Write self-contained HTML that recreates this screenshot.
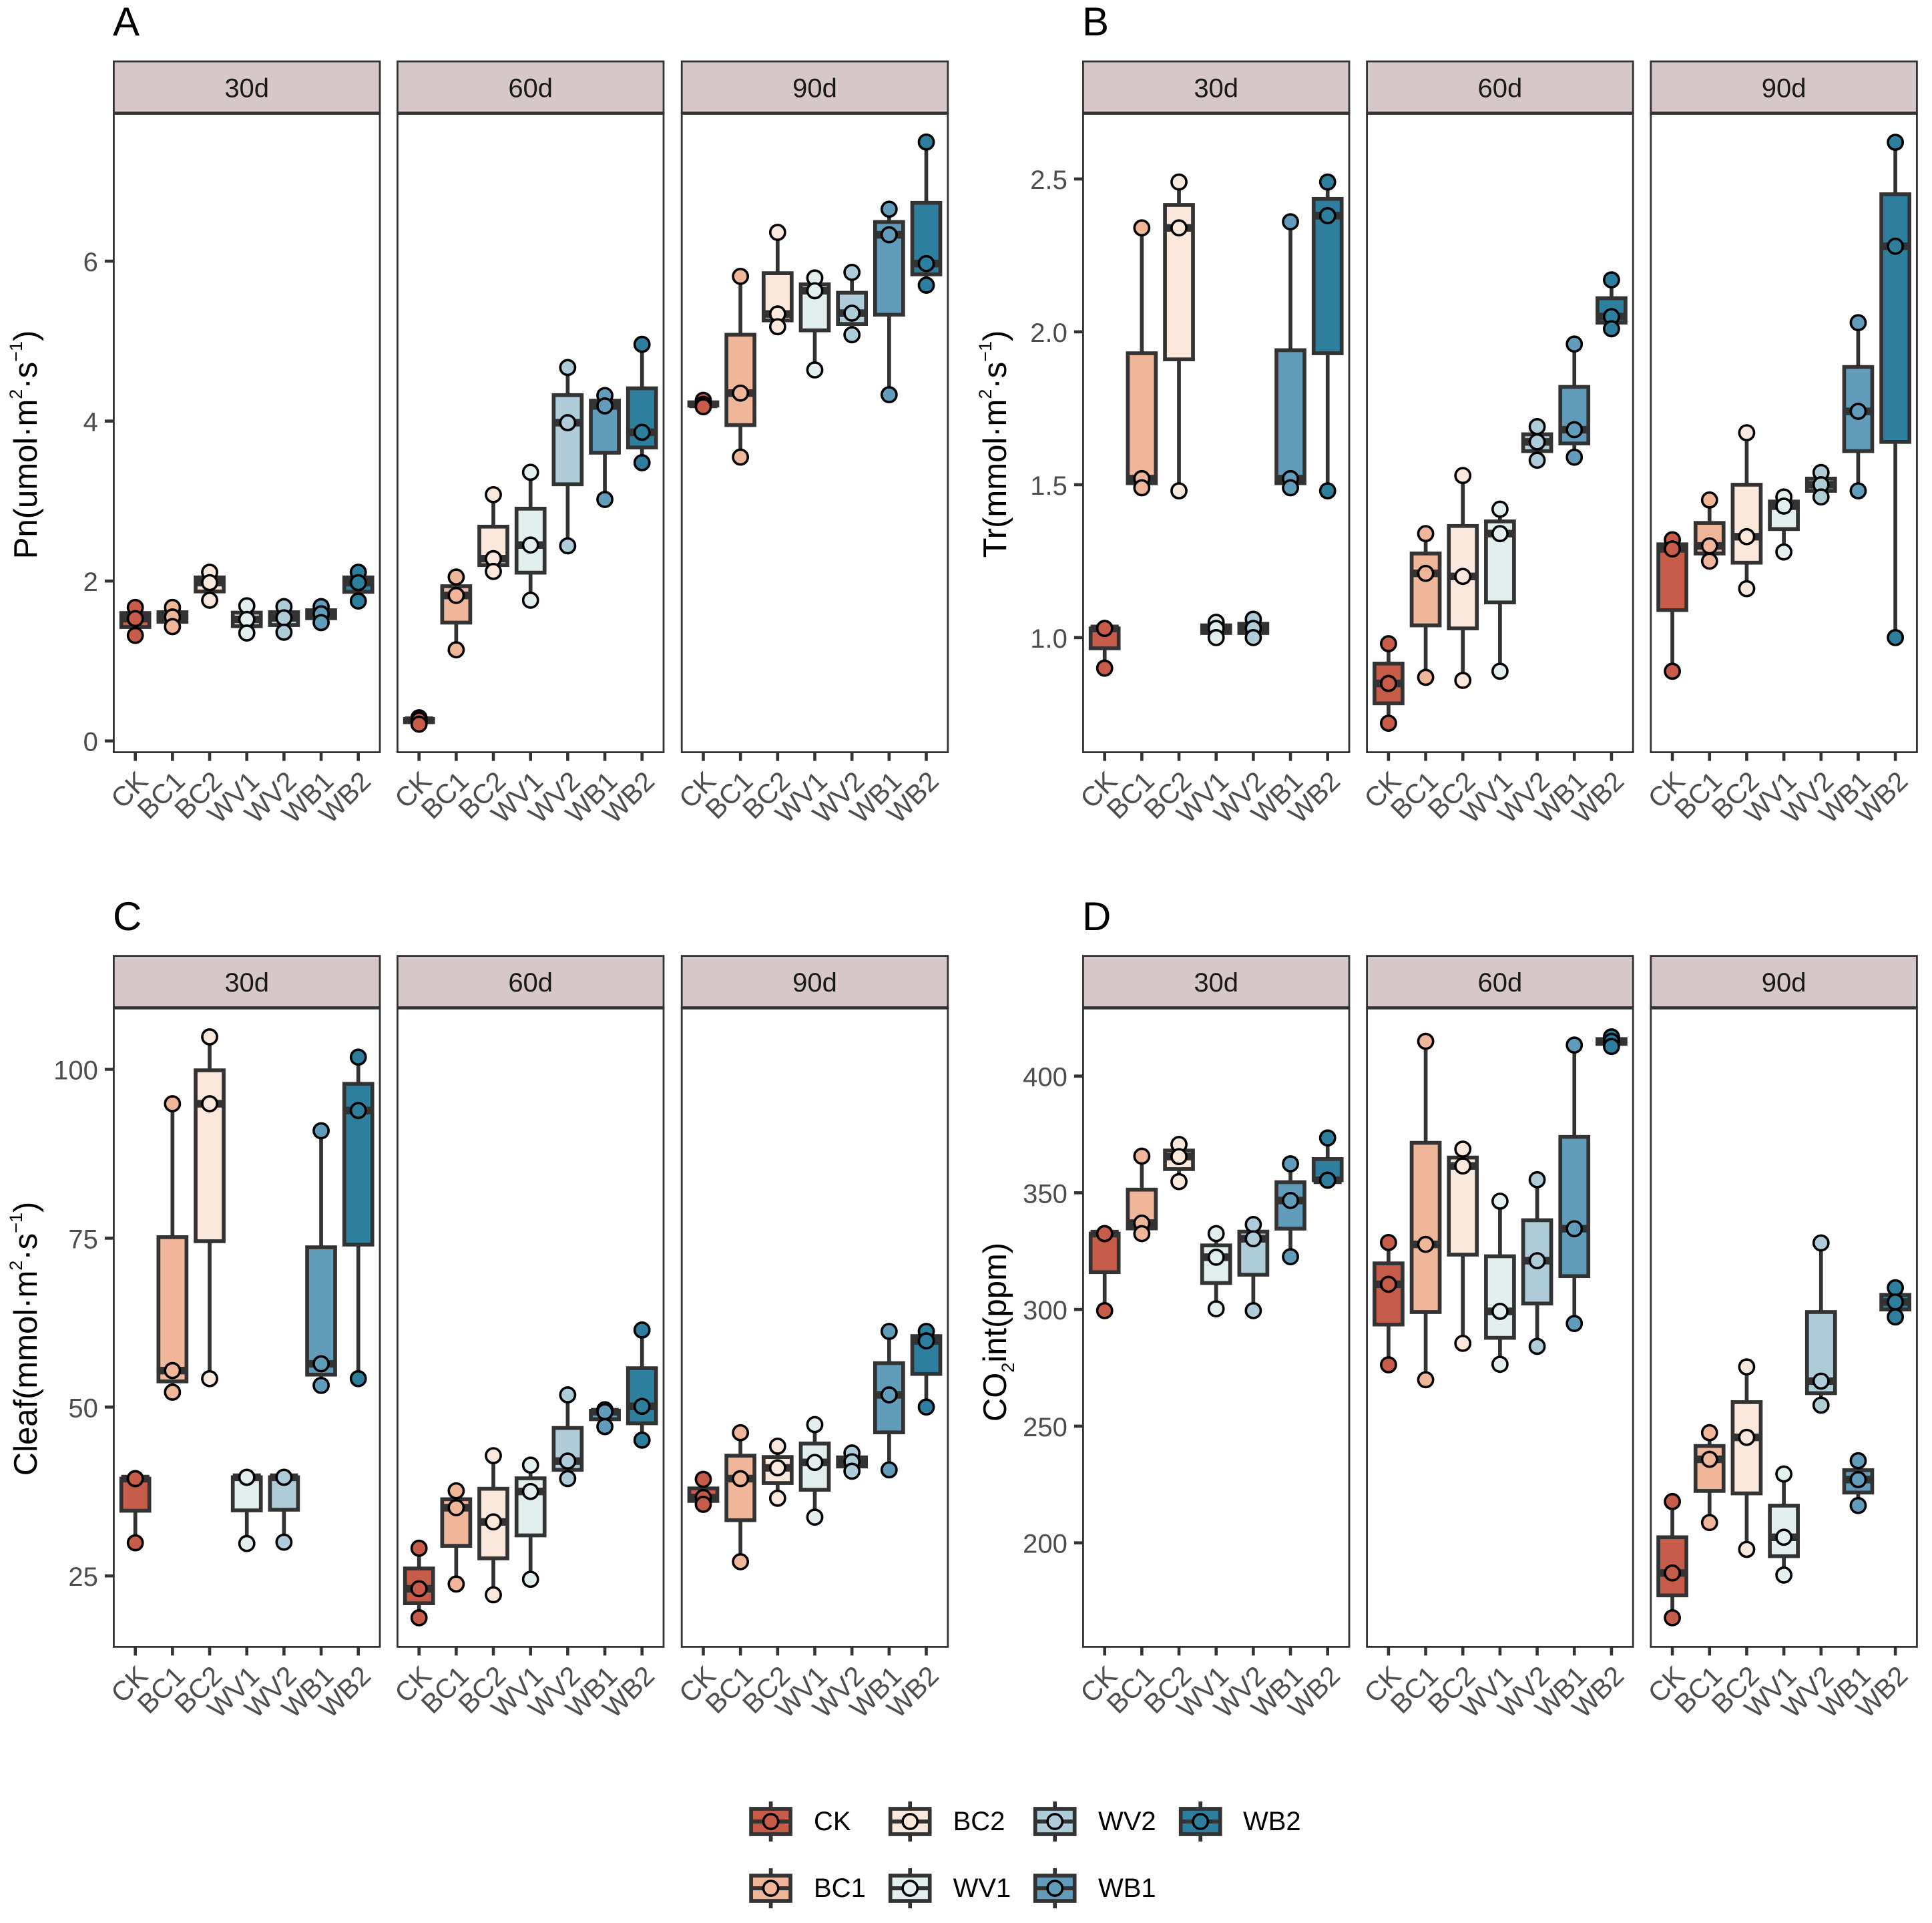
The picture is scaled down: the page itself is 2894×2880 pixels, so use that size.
<!DOCTYPE html>
<html lang="en">
<head>
<meta charset="utf-8">
<title>Boxplots of Pn, Tr, Cleaf and CO2int</title>
<style>
html,body{margin:0;padding:0;background:#fff;}
svg{display:block;font-family:"Liberation Sans",Arial,sans-serif;}
</style>
</head>
<body>
<svg id="figure" xmlns="http://www.w3.org/2000/svg" width="2894" height="2880" viewBox="0 0 2894 2880">
  <rect x="0" y="0" width="2894" height="2880" fill="#ffffff"/>
  <text x="169" y="53" font-size="60" fill="#000">A</text>
  <text x="1621" y="53" font-size="60" fill="#000">B</text>
  <text x="169" y="1393" font-size="60" fill="#000">C</text>
  <text x="1621" y="1393" font-size="60" fill="#000">D</text>

  <text transform="translate(55,666) rotate(-90)" text-anchor="middle" font-size="49" fill="#000">Pn(umol·m<tspan dy="-22" font-size="27">2</tspan><tspan dy="22">·s</tspan><tspan dy="-22" font-size="27">−1</tspan><tspan dy="22">)</tspan></text>
  <text transform="translate(1507,665) rotate(-90)" text-anchor="middle" font-size="49" fill="#000">Tr(mmol·m<tspan dy="-22" font-size="27">2</tspan><tspan dy="22">·s</tspan><tspan dy="-22" font-size="27">−1</tspan><tspan dy="22">)</tspan></text>
  <text transform="translate(55,2005) rotate(-90)" text-anchor="middle" font-size="49" fill="#000">Cleaf(mmol·m<tspan dy="-22" font-size="27">2</tspan><tspan dy="22">·s</tspan><tspan dy="-22" font-size="27">−1</tspan><tspan dy="22">)</tspan></text>
  <text transform="translate(1507,1995) rotate(-90)" text-anchor="middle" font-size="49" fill="#000">CO<tspan dy="12" font-size="27">2</tspan><tspan dy="-12">int(ppm)</tspan></text>
</svg>

<script>
// ----- data (three replicates per treatment) -----
const categories = ['CK', 'BC1', 'BC2', 'WV1', 'WV2', 'WB1', 'WB2'];
const facets = ['30d', '60d', '90d'];
const fills = ['#c85c4a', '#f0b699', '#fbe8dc', '#e2efee', '#aecdd9', '#619dbb', '#2e7f9e'];

const pnTicks = [0, 2, 4, 6];
const pnTickLabels = ['0', '2', '4', '6'];
const pnDomain = [-0.141, 7.85];
const pn30d = [[1.67, 1.53, 1.32], [1.67, 1.55, 1.43], [2.11, 1.98, 1.76], [1.69, 1.52, 1.35], [1.68, 1.54, 1.36], [1.68, 1.59, 1.48], [2.11, 1.98, 1.75]];
const pn60d = [[0.29, 0.26, 0.21], [2.05, 1.82, 1.14], [3.08, 2.28, 2.12], [3.36, 2.45, 1.76], [4.67, 3.98, 2.44], [4.32, 4.19, 3.02], [4.96, 3.86, 3.48]];
const pn90d = [[4.26, 4.21, 4.18], [5.81, 4.35, 3.55], [6.36, 5.34, 5.18], [5.79, 5.63, 4.64], [5.86, 5.35, 5.08], [6.65, 6.33, 4.33], [7.49, 5.97, 5.70]];

const trTicks = [1.0, 1.5, 2.0, 2.5];
const trTickLabels = ['1.0', '1.5', '2.0', '2.5'];
const trDomain = [0.625, 2.715];
const tr30d = [[1.03, 1.03, 0.90], [2.34, 1.52, 1.49], [2.49, 2.34, 1.48], [1.05, 1.03, 1.00], [1.06, 1.03, 1.00], [2.36, 1.52, 1.49], [2.49, 2.38, 1.48]];
const tr60d = [[0.98, 0.85, 0.72], [1.34, 1.21, 0.87], [1.53, 1.20, 0.86], [1.42, 1.34, 0.89], [1.69, 1.64, 1.58], [1.96, 1.68, 1.59], [2.17, 2.05, 2.01]];
const tr90d = [[1.32, 1.29, 0.89], [1.45, 1.30, 1.25], [1.67, 1.33, 1.16], [1.46, 1.43, 1.28], [1.54, 1.50, 1.46], [2.03, 1.74, 1.48], [2.62, 2.28, 1.00]];

const cleafTicks = [25, 50, 75, 100];
const cleafTickLabels = ['25', '50', '75', '100'];
const cleafDomain = [14.5, 109.1];
const cleaf30d = [[39.4, 39.4, 29.9], [94.9, 55.4, 52.2], [104.8, 94.9, 54.2], [39.6, 39.6, 29.8], [39.6, 39.6, 30.0], [90.9, 56.4, 53.2], [101.8, 93.9, 54.2]];
const cleaf60d = [[29.1, 23.1, 18.8], [37.6, 35.1, 23.8], [42.8, 33.0, 22.2], [41.4, 37.5, 24.5], [51.8, 42.0, 39.4], [49.6, 49.3, 47.1], [61.4, 50.1, 45.1]];
const cleaf90d = [[39.3, 36.6, 35.6], [46.2, 39.4, 27.1], [44.2, 41.0, 36.5], [47.4, 41.8, 33.7], [43.2, 41.9, 40.5], [61.2, 51.8, 40.7], [61.2, 59.8, 50.0]];

const co2Ticks = [200, 250, 300, 350, 400];
const co2TickLabels = ['200', '250', '300', '350', '400'];
const co2Domain = [155.45, 429.25];
const co230d = [[332.5, 332.5, 299.5], [365.7, 337.0, 332.5], [370.7, 365.5, 354.8], [332.5, 322.4, 300.3], [336.4, 330.3, 299.5], [362.4, 346.7, 322.6], [373.5, 355.4, 355.4]];
const co260d = [[328.7, 310.8, 276.3], [414.9, 327.9, 269.9], [368.7, 361.5, 285.5], [346.4, 299.2, 276.5], [355.6, 320.9, 284.2], [413.3, 334.6, 294.0], [416.8, 414.9, 412.7]];
const co290d = [[217.7, 187.1, 167.9], [247.2, 235.8, 208.7], [275.4, 245.2, 197.2], [229.5, 202.4, 186.2], [328.5, 269.3, 259.0], [235.2, 227.1, 216.0], [309.3, 303.2, 296.8]];

// ----- chart assembly -----
const charts = [
  { key: 'pn', col: 0, row: 0, domain: pnDomain, ticks: pnTicks, labels: pnTickLabels, series: [pn30d, pn60d, pn90d] },
  { key: 'tr', col: 1, row: 0, domain: trDomain, ticks: trTicks, labels: trTickLabels, series: [tr30d, tr60d, tr90d] },
  { key: 'cleaf', col: 0, row: 1, domain: cleafDomain, ticks: cleafTicks, labels: cleafTickLabels, series: [cleaf30d, cleaf60d, cleaf90d] },
  { key: 'co2int', col: 1, row: 1, domain: co2Domain, ticks: co2Ticks, labels: co2TickLabels, series: [co230d, co260d, co290d] }
];

const layout = {
  colOffset: [[170.4, 595.4, 1021.2], [1622.4, 2047.6, 2472.8]],
  panelW: 398.6,
  stripTop: [92, 1431.6],
  panelTop: [169.6, 1509.4],
  panelBottom: [1126.6, 2466.4],
  dark: '#333333',
  boxStroke: 5.7,
  pointR: 11.1,
  pointStroke: 3.6
};

const svg = document.getElementById('figure');
const NS = 'http://www.w3.org/2000/svg';

function mk(tag, attrs, parent) {
  const el = document.createElementNS(NS, tag);
  for (const k in attrs) el.setAttribute(k, attrs[k]);
  parent.appendChild(el);
  return el;
}

function yScale(domain, top, bottom) {
  return function (v) {
    return bottom - (v - domain[0]) / (domain[1] - domain[0]) * (bottom - top);
  };
}

function xScale(left, width, n) {
  const step = width / (n - 1 + 1.16);
  return function (i) {
    return left + step * (0.58 + i);
  };
}

function quartile(sorted, p) {
  const h = (sorted.length - 1) * p;
  const lo = Math.floor(h);
  const hi = Math.ceil(h);
  return sorted[lo] + (sorted[hi] - sorted[lo]) * (h - lo);
}

function drawBox(parent, cx, halfW, y, values, fill, name) {
  const sorted = values.slice().sort(function (a, b) { return a - b; });
  const g = mk('g', {}, parent);
  
  
  const yMin = y(sorted[0]);
  const yMax = y(sorted[sorted.length - 1]);
  const yQ1 = y(quartile(sorted, 0.25));
  const yMed = y(quartile(sorted, 0.5));
  const yQ3 = y(quartile(sorted, 0.75));

  const upper = mk('line', { x1: cx, x2: cx, y1: yQ3, y2: yMax, stroke: layout.dark, 'stroke-width': layout.boxStroke }, g);
  
  

  const lower = mk('line', { x1: cx, x2: cx, y1: yQ1, y2: yMin, stroke: layout.dark, 'stroke-width': layout.boxStroke }, g);
  
  

  const box = mk('rect', { x: cx - halfW, y: yQ3, width: halfW * 2, height: yQ1 - yQ3, fill: fill, stroke: layout.dark, 'stroke-width': layout.boxStroke }, g);
  
  

  const median = mk('line', { x1: cx - halfW, x2: cx + halfW, y1: yMed, y2: yMed, stroke: layout.dark, 'stroke-width': layout.boxStroke * 2 }, g);
  
  

  values.forEach(function (v) {
    const c = mk('circle', { cx: cx, cy: y(v), r: layout.pointR, fill: fill, stroke: '#000', 'stroke-width': layout.pointStroke }, g);
    
    
  });
}

charts.forEach(function (chart) {
  const top = layout.panelTop[chart.row];
  const bottom = layout.panelBottom[chart.row];
  const stripTop = layout.stripTop[chart.row];
  const y = yScale(chart.domain, top, bottom);

  facets.forEach(function (facet, f) {
    const left = layout.colOffset[chart.col][f];
    const w = layout.panelW;
    const x = xScale(left, w, categories.length);
    const halfW = 21;

    const g = mk('g', {}, svg);
    
    

    const strip = mk('rect', { x: left, y: stripTop, width: w, height: top - stripTop, fill: '#d6c7c9', stroke: layout.dark, 'stroke-width': 2.8 }, g);
    
    

    const stripText = mk('text', { x: left + w / 2, y: stripTop + 53.4, 'font-size': 40, 'text-anchor': 'middle', fill: '#1a1a1a' }, g);
    
    
    stripText.textContent = facet;

    const panelBg = mk('rect', { x: left, y: top, width: w, height: bottom - top, fill: '#ffffff' }, g);
    
    

    chart.series[f].forEach(function (values, i) {
      drawBox(g, x(i), halfW, y, values, fills[i], categories[i]);
    });

    const border = mk('rect', { x: left, y: top, width: w, height: bottom - top, fill: 'none', stroke: layout.dark, 'stroke-width': 2.8 }, g);
    
    

    const stripRule = mk('line', { x1: left, x2: left + w, y1: top, y2: top, stroke: layout.dark, 'stroke-width': 4.6 }, g);
    
    

    categories.forEach(function (cat, i) {
      const tick = mk('line', { x1: x(i), x2: x(i), y1: bottom, y2: bottom + 13, stroke: layout.dark, 'stroke-width': 4.6 }, g);
      
      

      const label = mk('text', { 'text-anchor': 'end', 'font-size': 41, fill: '#4d4d4d', transform: 'translate(' + (x(i) + 21) + ',' + (bottom + 46) + ') rotate(-45)' }, g);
      
      
      label.textContent = cat;
    });

    if (f === 0) {
      chart.ticks.forEach(function (t, k) {
        const tick = mk('line', { x1: left - 13.5, x2: left, y1: y(t), y2: y(t), stroke: layout.dark, 'stroke-width': 4.6 }, g);
        
        

        const label = mk('text', { x: left - 23.5, y: y(t) + 15, 'text-anchor': 'end', 'font-size': 40, fill: '#4d4d4d' }, g);
        
        
        label.textContent = chart.labels[k];
      });
    }
  });
});

// ----- legend -----
const legendOrder = [[0, 1], [2, 3], [4, 5], [6]];
const legendKeyLeft = [1122.4, 1331, 1548, 1766];
const legendLabelLeft = [1219, 1427.6, 1645, 1862];
const legendRowY = [2728, 2828];

const legend = mk('g', {}, svg);



legendOrder.forEach(function (column, c) {
  column.forEach(function (catIndex, r) {
    const cy = legendRowY[r];
    const kx = legendKeyLeft[c] + 32.2;
    const g = mk('g', {}, legend);
    
    

    const whisker = mk('line', { x1: kx, x2: kx, y1: cy - 30, y2: cy + 30, stroke: layout.dark, 'stroke-width': layout.boxStroke }, g);
    
    

    const box = mk('rect', { x: kx - 29.5, y: cy - 19, width: 59, height: 38, fill: fills[catIndex], stroke: layout.dark, 'stroke-width': layout.boxStroke }, g);
    
    

    const median = mk('line', { x1: kx - 29.5, x2: kx + 29.5, y1: cy, y2: cy, stroke: layout.dark, 'stroke-width': 6 }, g);
    
    

    const dot = mk('circle', { cx: kx, cy: cy, r: layout.pointR, fill: fills[catIndex], stroke: '#000', 'stroke-width': layout.pointStroke }, g);
    
    

    const text = mk('text', { x: legendLabelLeft[c], y: cy + 13, 'font-size': 40, fill: '#000' }, g);
    
    
    text.textContent = categories[catIndex];
  });
});
</script>
</body>
</html>
